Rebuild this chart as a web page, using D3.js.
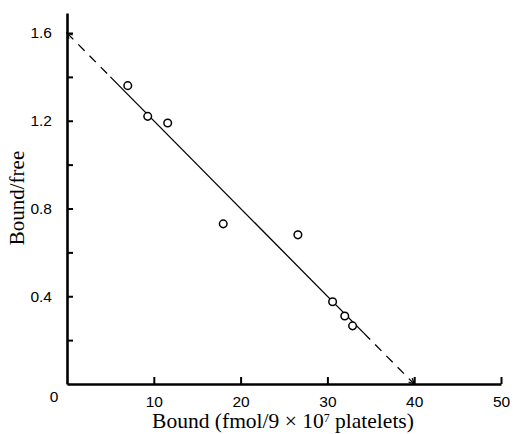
<!DOCTYPE html>
<html>
<head>
<meta charset="utf-8">
<script src="https://cdn.jsdelivr.net/npm/d3@7"></script>
<style>
  body { margin: 0; background: #fff; }
  .tick text { font-family: "Liberation Sans", Arial, sans-serif; font-size: 15.5px; fill: #000; }
</style>
</head>
<body>
<div id="chart"></div>
<script>
// datos
const boundValues = [7.0, 9.3, 11.6, 18.0, 26.6, 30.6, 32.0, 32.9];
const ratioValues = [1.36, 1.22, 1.19, 0.73, 0.68, 0.375, 0.31, 0.265];
// recta de ajuste: tramos discontinuo / continuo / discontinuo
const fitBound = [0, 5, 34.2, 40];
const fitRatio = [1.6, 1.4, 0.232, 0];
const xTicks = [0, 10, 20, 30, 40, 50];
const yTicks = [0.2, 0.4, 0.6, 0.8, 1.0, 1.2, 1.4, 1.6];
const yLabels = [0.4, 0.8, 1.2, 1.6];

const width = 513, height = 434;
const margin = { top: 13, right: 12, bottom: 50, left: 67 };

const svg = d3.select('#chart').append('svg')
    .attr('width', width)
    .attr('height', height);

const x = d3.scaleLinear().domain([0, 50]).range([margin.left, 501]);
const y = d3.scaleLinear().domain([0, 1.6]).range([384, 33]);
const yTop = y.invert(margin.top);

// ejes
const yAxis = d3.axisLeft(d3.scaleLinear().domain([0, yTop]).range([384, margin.top]))
    .tickValues(yTicks)
    .tickSize(-6)
    .tickSizeOuter(0)
    .tickPadding(15)
    .tickFormat(d => yLabels.some(v => Math.abs(v - d) < 1e-6) ? d3.format('.1f')(d) : '');

svg.append('g')
    .attr('transform', `translate(${margin.left},0)`)
    .call(yAxis)
    .call(g => g.select('.domain').attr('stroke-width', 2.6))
    .call(g => g.selectAll('.tick line').attr('stroke-width', 2));

const xAxis = d3.axisBottom(x)
    .tickValues(xTicks.slice(1))
    .tickSize(-7)
    .tickSizeOuter(0)
    .tickPadding(12);

svg.append('g')
    .attr('transform', 'translate(0,384)')
    .call(xAxis)
    .call(g => g.select('.domain').attr('stroke-width', 2.6))
    .call(g => g.selectAll('.tick line').attr('stroke-width', 2));

// el "0" comun en la esquina
svg.append('text')
    .attr('x', x(0) - 13)
    .attr('y', 402)
    .attr('text-anchor', 'middle')
    .style('font-family', '"Liberation Sans", Arial, sans-serif')
    .style('font-size', '15.5px')
    .text(xTicks[0]);

// recta de ajuste
const fit = fitBound.map((b, i) => ({ b: b, r: fitRatio[i] }));
const seg = (a, c, dashed) => svg.append('line')
    .attr('x1', x(fit[a].b)).attr('y1', y(fit[a].r))
    .attr('x2', x(fit[c].b)).attr('y2', y(fit[c].r))
    .attr('stroke', '#000')
    .attr('stroke-width', 1.3)
    .attr('stroke-dasharray', dashed ? '9,7' : null);
seg(0, 1, true);
seg(1, 2, false);
seg(2, 3, true);

// puntas de flecha en los extremos
const arrowHead = (p, q) => {
    const x1 = x(p.b), y1 = y(p.r), x2 = x(q.b), y2 = y(q.r);
    const ang = Math.atan2(y2 - y1, x2 - x1);
    const len = 6, spread = 0.45;
    const pts = [
        [x2 - len * Math.cos(ang - spread), y2 - len * Math.sin(ang - spread)],
        [x2, y2],
        [x2 - len * Math.cos(ang + spread), y2 - len * Math.sin(ang + spread)]
    ];
    svg.append('path')
        .attr('d', d3.line()(pts))
        .attr('fill', 'none')
        .attr('stroke', '#000')
        .attr('stroke-width', 1.3);
};
arrowHead(fit[1], fit[0]);
arrowHead(fit[2], fit[3]);

// puntos
const points = boundValues.map((b, i) => ({ b: b, r: ratioValues[i] }));
svg.selectAll('.pt')
    .data(points)
    .enter().append('circle')
    .attr('class', 'pt')
    .attr('cx', d => x(d.b))
    .attr('cy', d => y(d.r))
    .attr('r', 3.8)
    .attr('fill', '#fff')
    .attr('stroke', '#000')
    .attr('stroke-width', 1.5);

// nombres de los ejes
const xl = svg.append('text')
    .attr('x', 283)
    .attr('y', 428)
    .attr('text-anchor', 'middle')
    .style('font-family', '"Liberation Serif", "Times New Roman", serif')
    .style('font-size', '21.5px');
xl.append('tspan').text('Bound (fmol/9 \u00d7 10');
xl.append('tspan').attr('dy', -6).style('font-size', '12px').text('7');
xl.append('tspan').attr('dy', 6).text(' platelets)');

svg.append('text')
    .attr('transform', 'translate(24,198) rotate(-90)')
    .attr('text-anchor', 'middle')
    .style('font-family', '"Liberation Serif", "Times New Roman", serif')
    .style('font-size', '21px')
    .text('Bound/free');
</script>
</body>
</html>
